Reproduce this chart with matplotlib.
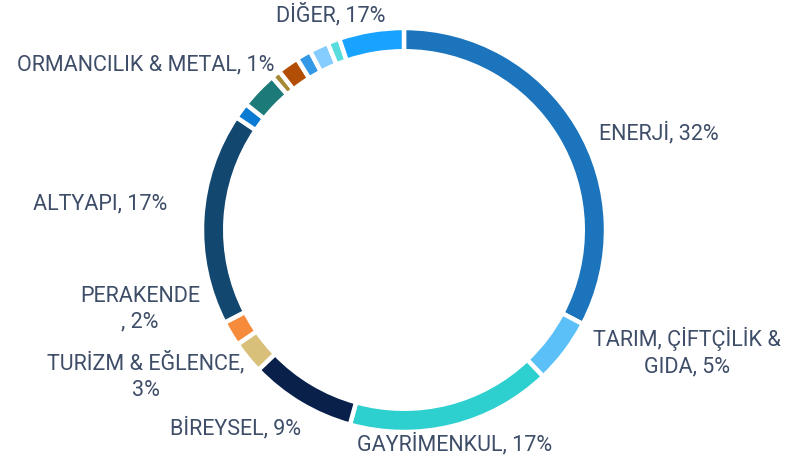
import matplotlib
matplotlib.use("Agg")
import matplotlib.pyplot as plt

categories = ["ENERJİ", "TARIM, ÇİFTÇİLİK & GIDA", "GAYRİMENKUL", "BİREYSEL",
              "TURİZM & EĞLENCE", "PERAKENDE", "ALTYAPI", "DİĞER-1", "DİĞER-2",
              "ORMANCILIK & METAL", "DİĞER-3", "DİĞER-4", "DİĞER-5", "DİĞER-6", "DİĞER"]
values = [32.7, 5.2, 16.4, 8.5, 2.6, 2.0, 17.0, 1.28, 2.97, 0.72, 1.72, 1.19, 1.53, 0.97, 5.19]
colors = ["#1C75BC", "#5CC0F8", "#2ECFCF", "#08204A", "#D9C07A", "#F68B3C", "#124770",
          "#0A7BD3", "#1C7B78", "#A68A33", "#B24E05", "#3399E6", "#85CCFF", "#57DDDD", "#17A3FF"]

label_texts = ["DİĞER, 17%", "ORMANCILIK & METAL, 1%", "ENERJİ, 32%",
               "TARIM, ÇİFTÇİLİK &\nGIDA, 5%", "GAYRİMENKUL, 17%", "BİREYSEL, 9%",
               "TURİZM & EĞLENCE,\n3%", "PERAKENDE\n, 2%", "ALTYAPI, 17%"]
label_px = [(331, 15), (146, 65), (659, 133), (687, 352), (455, 444), (235, 428),
            (146, 376), (140, 309), (100, 204)]

W, H = 792, 459
fig = plt.figure(figsize=(W / 100, H / 100), dpi=100)
cx, cy, R = 404, 230, 202
ax = fig.add_axes([(cx - R) / W, (H - cy - R) / H, 2 * R / W, 2 * R / H])
ax.pie(values, colors=colors, startangle=90, counterclock=False, radius=1.0,
       wedgeprops=dict(width=0.115, edgecolor="white", linewidth=3.2))
ax.set_xlim(-1, 1)
ax.set_ylim(-1, 1)
ax.set_aspect("equal")
ax.axis("off")

for t, (x, y) in zip(label_texts, label_px):
    fig.text(x / W, 1 - y / H, t, ha="center", va="center", fontsize=15.5,
             color="#3E4D68", family="Roboto", fontweight="normal", linespacing=1.3)

fig.savefig("out.png", dpi=100)
